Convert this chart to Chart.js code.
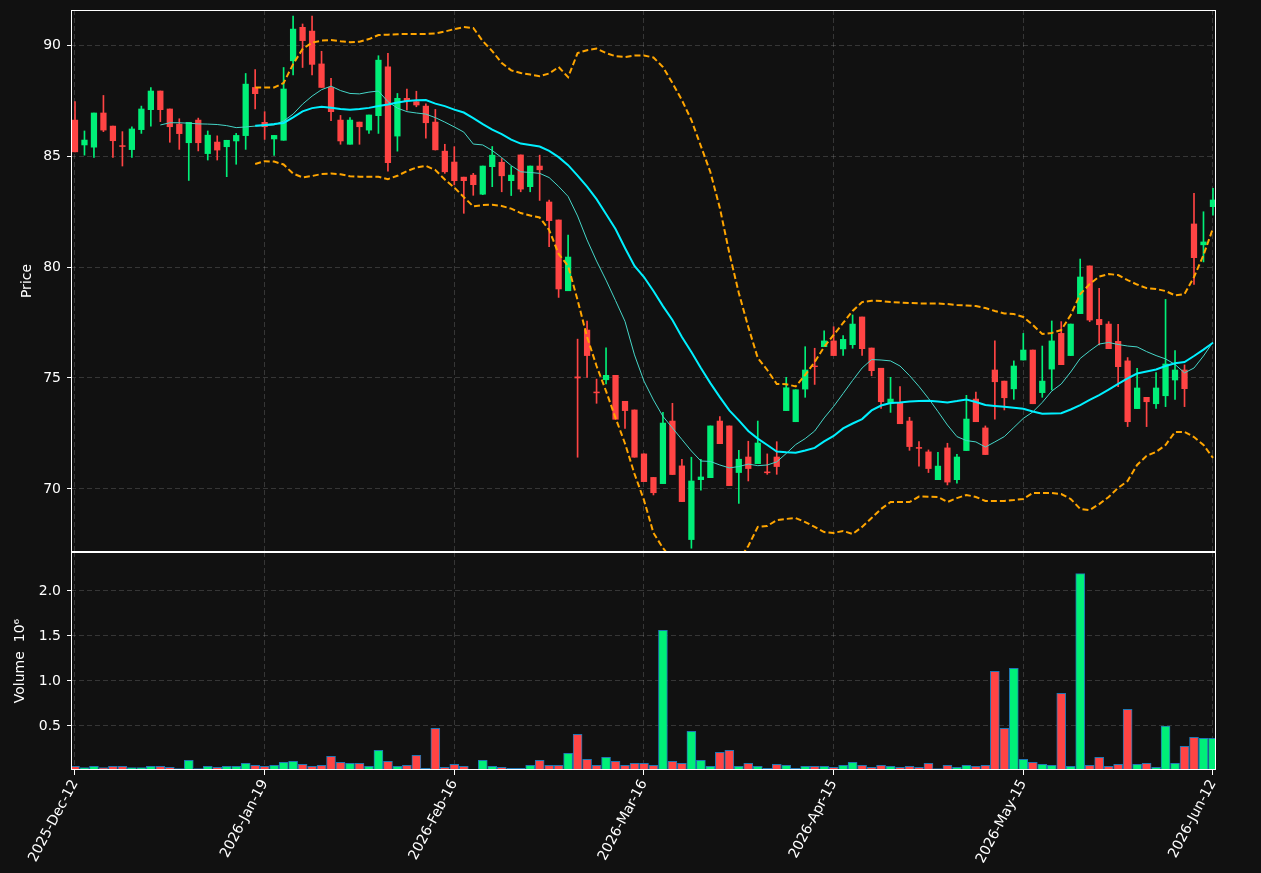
<!DOCTYPE html>
<html>
<head>
<meta charset="utf-8">
<script src="https://cdn.jsdelivr.net/npm/chart.js@4.4.1/dist/chart.umd.min.js"></script>
<style>
html,body{margin:0;padding:0;background:#111111;}
#wrap{position:relative;width:1261px;height:873px;background:#111111;overflow:hidden;}
#c1{position:absolute;left:0;top:0;}
#c2{position:absolute;left:0;top:552px;}
</style>
</head>
<body>
<div id="wrap">
<canvas id="c1" width="1261" height="553"></canvas>
<canvas id="c2" width="1261" height="321"></canvas>
</div>
<script>
// ---------------- data ----------------
const tickLabels = ['2025-Dec-12','2026-Jan-19','2026-Feb-16','2026-Mar-16','2026-Apr-15','2026-May-15','2026-Jun-12'];
const tickPositions = [0,20,40,60,80,100,120];
const priceTicks = [70,75,80,85,90];
const volumeTicks = [0.5,1.0,1.5,2.0];

const opens = [
86.62,85.50,85.40,86.94,86.35,85.47,85.29,86.19,87.09,87.93,
87.12,86.44,85.60,86.62,85.11,85.63,85.42,85.68,85.92,88.09,
86.52,85.77,85.71,89.29,90.80,90.63,89.15,88.09,86.62,85.53,
86.53,86.17,86.82,89.02,85.90,87.60,87.45,87.25,86.53,85.22,
84.73,84.05,84.14,83.28,84.52,84.72,83.89,85.05,83.62,84.55,
82.93,82.12,78.93,75.05,77.16,74.37,74.92,75.12,73.95,73.56,
71.58,70.52,70.24,73.06,71.04,67.72,70.42,70.51,73.06,72.84,
70.74,71.44,71.14,70.77,71.44,73.53,73.03,74.50,75.54,76.41,
76.67,76.31,76.50,77.75,76.35,75.44,73.86,73.86,73.06,71.87,
71.67,70.42,71.85,70.42,71.73,74.05,72.75,75.36,74.86,74.51,
75.81,76.26,74.34,75.40,77.01,76.01,77.90,80.05,77.64,77.43,
76.65,75.77,73.62,74.13,73.84,74.20,74.91,75.36,81.94,81.00,
82.72];
const highs = [
87.45,86.13,86.94,87.73,86.35,86.10,86.32,87.25,88.09,87.93,
87.12,86.68,86.52,86.71,86.13,85.91,85.71,86.02,88.72,88.90,
87.00,85.93,88.99,91.31,90.95,91.31,89.72,88.50,86.83,86.73,
86.53,86.85,89.52,89.63,87.82,88.02,87.92,87.35,87.10,85.53,
85.42,84.05,84.22,84.55,85.43,84.89,84.53,85.05,84.55,85.04,
83.02,82.12,81.44,76.75,77.56,74.95,76.36,75.12,73.95,73.56,
71.58,70.52,73.45,73.86,71.34,71.43,71.34,72.84,73.26,72.84,
71.74,72.15,73.06,71.58,72.13,75.03,74.47,76.41,76.34,77.13,
77.31,76.91,77.84,77.75,76.35,75.44,75.03,74.61,73.23,72.13,
71.76,71.65,72.06,71.56,74.22,74.37,72.84,76.67,74.86,75.77,
77.01,76.26,76.44,77.57,77.54,77.43,80.36,80.05,79.04,77.54,
77.42,75.92,75.44,74.13,75.24,78.54,76.23,75.59,83.32,82.49,
83.54];
const lows = [
85.19,85.04,84.94,86.10,84.94,84.55,84.94,86.02,86.35,86.55,
85.62,85.30,83.90,85.23,84.82,84.82,84.07,84.63,85.30,87.12,
85.75,85.03,85.71,88.65,88.99,88.65,88.09,86.59,85.53,85.53,
85.53,86.02,86.02,84.32,85.22,87.07,87.22,85.80,85.27,84.22,
83.70,82.42,83.23,83.26,83.62,83.39,83.22,83.39,83.39,83.00,
80.92,78.63,78.93,71.43,75.03,73.86,74.73,73.14,72.73,71.43,
70.33,69.73,70.24,70.65,69.43,67.33,69.95,70.51,72.04,70.15,
69.35,70.36,71.14,70.66,70.66,73.53,73.03,74.13,74.71,76.41,
76.01,76.02,76.34,76.02,75.10,73.63,73.45,72.94,71.74,71.03,
70.74,70.42,70.18,70.26,71.73,73.03,71.55,73.14,73.56,74.04,
75.81,73.84,74.13,74.46,75.60,76.01,77.90,77.54,76.49,76.32,
74.61,72.81,73.62,72.81,73.63,73.71,74.04,73.71,79.22,80.23,
82.34];
const closes = [
85.19,85.72,86.94,86.17,85.69,85.43,86.22,87.12,87.93,87.09,
86.32,86.01,86.52,85.60,85.94,85.27,85.71,85.93,88.24,87.81,
86.32,85.93,88.02,90.72,90.20,89.13,88.09,87.00,85.68,86.62,
86.32,86.85,89.32,84.70,87.60,87.49,87.30,86.50,85.28,84.29,
83.89,83.89,83.71,84.55,85.04,84.11,84.14,83.51,84.55,84.38,
82.09,79.01,80.45,75.00,76.01,74.33,75.12,73.14,73.53,71.43,
70.33,69.83,72.97,70.65,69.43,70.36,70.54,72.84,72.04,70.15,
71.34,70.92,72.07,70.73,71.01,74.56,74.47,75.36,75.51,76.67,
76.01,76.74,77.43,76.32,75.33,73.93,74.05,72.94,71.91,71.83,
70.92,71.03,70.31,71.44,73.15,73.03,71.55,74.83,74.11,75.54,
76.26,73.84,74.86,76.67,75.60,77.43,79.55,77.61,77.40,76.32,
75.51,73.03,74.55,73.93,74.55,75.63,75.36,74.52,80.42,81.13,
83.02];
// volume in millions
const volumes = [
0.052,0.037,0.052,0.037,0.052,0.052,0.037,0.037,0.052,0.052,
0.041,0.026,0.118,0.026,0.052,0.041,0.052,0.052,0.085,0.063,
0.052,0.063,0.096,0.107,0.074,0.052,0.063,0.163,0.096,0.085,
0.085,0.052,0.230,0.107,0.052,0.063,0.174,0.030,0.474,0.041,
0.074,0.052,0.019,0.118,0.052,0.041,0.030,0.030,0.063,0.118,
0.063,0.063,0.196,0.407,0.130,0.063,0.152,0.107,0.063,0.085,
0.085,0.063,1.563,0.107,0.085,0.441,0.118,0.052,0.207,0.230,
0.052,0.085,0.052,0.030,0.074,0.063,0.030,0.052,0.052,0.052,
0.041,0.063,0.096,0.063,0.041,0.063,0.052,0.041,0.052,0.041,
0.085,0.026,0.063,0.041,0.063,0.052,0.063,1.107,0.474,1.141,
0.130,0.096,0.074,0.063,0.863,0.052,2.192,0.063,0.152,0.052,
0.074,0.685,0.074,0.085,0.041,0.500,0.085,0.274,0.374,0.363,
0.363];
const ma10 = [null,null,null,null,null,null,null,null,null,
86.40,86.50,86.50,86.48,86.45,86.44,86.42,86.37,86.28,86.31,86.35,
86.37,86.40,86.58,86.89,87.34,87.70,87.99,88.15,87.95,87.82,
87.80,87.88,87.93,87.45,87.16,87.00,86.94,86.89,86.73,86.53,
86.31,86.08,85.54,85.50,85.25,84.93,84.57,84.29,84.26,84.22,
84.03,83.63,83.18,82.30,81.22,80.27,79.41,78.49,77.55,76.04,
74.86,74.01,73.27,72.75,72.23,71.71,71.26,71.24,71.08,70.95,
71.01,71.12,71.05,71.08,71.22,71.60,72.00,72.27,72.61,73.20,
73.72,74.30,74.89,75.45,75.83,75.81,75.77,75.54,75.11,74.62,
74.08,73.49,72.88,72.36,72.18,72.12,71.89,72.12,72.36,72.77,
73.18,73.47,73.90,74.41,74.73,75.27,75.88,76.22,76.53,76.60,
76.51,76.44,76.40,76.19,76.01,75.86,75.61,75.23,75.45,75.99,
76.62];
const ma20 = [null,null,null,null,null,null,null,null,null,null,
null,null,null,null,null,null,null,null,null,
86.37,86.40,86.44,86.49,86.74,87.01,87.16,87.22,87.18,87.12,87.09,
87.12,87.17,87.25,87.32,87.41,87.48,87.51,87.52,87.36,87.25,
87.09,86.96,86.71,86.44,86.19,85.99,85.74,85.56,85.50,85.43,
85.23,84.95,84.59,84.12,83.62,83.06,82.39,81.71,80.86,80.05,
79.55,78.92,78.24,77.61,76.85,76.17,75.45,74.77,74.14,73.54,
73.09,72.61,72.27,71.98,71.69,71.65,71.63,71.73,71.85,72.14,
72.39,72.73,72.95,73.15,73.54,73.76,73.87,73.90,73.94,73.96,
73.97,73.94,73.90,73.96,74.03,73.92,73.78,73.74,73.70,73.66,
73.61,73.49,73.39,73.40,73.41,73.58,73.78,74.01,74.23,74.48,
74.73,74.98,75.20,75.29,75.38,75.54,75.66,75.72,75.99,76.28,
76.59];
const bbUpper = [null,null,null,null,null,null,null,null,null,null,
null,null,null,null,null,null,null,null,null,
88.09,88.09,88.09,88.29,89.14,89.82,90.11,90.20,90.23,90.17,90.13,
90.15,90.27,90.45,90.47,90.49,90.50,90.50,90.50,90.52,90.61,
90.72,90.81,90.77,90.18,89.73,89.19,88.86,88.74,88.67,88.60,
88.72,89.01,88.55,89.64,89.77,89.84,89.64,89.50,89.46,89.53,
89.53,89.44,89.01,88.29,87.52,86.62,85.45,84.28,82.66,80.63,
78.83,77.30,75.90,75.36,74.73,74.72,74.62,75.14,75.72,76.40,
76.94,77.48,78.02,78.42,78.48,78.47,78.42,78.40,78.38,78.36,
78.36,78.36,78.33,78.29,78.27,78.24,78.15,78.02,77.91,77.88,
77.75,77.39,76.98,77.03,77.16,77.84,78.78,79.23,79.57,79.68,
79.64,79.41,79.21,79.05,79.01,78.92,78.72,78.78,79.55,80.54,
81.74];
const bbLower = [null,null,null,null,null,null,null,null,null,null,
null,null,null,null,null,null,null,null,null,
84.64,84.77,84.75,84.62,84.21,84.04,84.10,84.19,84.21,84.18,84.09,
84.07,84.07,84.07,83.96,84.11,84.32,84.48,84.56,84.37,83.94,
83.58,83.15,82.73,82.79,82.81,82.75,82.63,82.43,82.32,82.23,
81.67,80.59,80.05,78.51,76.85,75.54,74.41,73.20,72.05,70.68,
69.50,68.02,67.34,66.80,66.26,65.90,65.72,65.68,65.81,66.13,
66.80,67.43,68.29,68.33,68.60,68.65,68.69,68.51,68.29,68.06,
68.02,68.11,67.97,68.29,68.69,69.10,69.41,69.41,69.41,69.66,
69.65,69.64,69.41,69.59,69.73,69.64,69.46,69.46,69.46,69.50,
69.55,69.82,69.82,69.82,69.77,69.55,69.10,69.05,69.32,69.64,
70.05,70.36,71.08,71.49,71.67,71.98,72.57,72.57,72.34,71.98,
71.40];

// ---------------- styling ----------------
const UP = '#00ef78', DOWN = '#ff4444';
const BG = '#111111';
const GRID = 'rgba(255,255,255,0.20)';
const FONT = {family:'DejaVu Sans', size:14};
const X_MIN = -0.42, X_MAX = 120.32;
Chart.defaults.font.family = 'DejaVu Sans';
Chart.defaults.color = '#ffffff';

const candleColors = opens.map((o,i)=> closes[i] >= o ? UP : DOWN);
const pts = arr => arr.map((v,i)=>({x:i,y:v})).filter(p=>p.y!==null);

const framePlugin = {
  id:'frame',
  beforeDraw(chart){
    const {ctx} = chart;
    ctx.save(); ctx.fillStyle = BG; ctx.fillRect(0,0,chart.width,chart.height); ctx.restore();
  },
  afterDraw(chart){
    const {ctx, chartArea:a} = chart;
    ctx.save();
    ctx.strokeStyle = '#ffffff'; ctx.lineWidth = 1;
    ctx.strokeRect(Math.round(a.left)+0.5, Math.round(a.top)+0.5, Math.round(a.right-a.left)-1, Math.round(a.bottom-a.top)-1);
    ctx.restore();
  }
};

function fixedWidth(w){ return function(scale){ scale.width = w; scale.paddingTop=0; scale.paddingBottom=0; scale.paddingLeft=0; scale.paddingRight=0; }; }
function fixedHeight(h){ return function(scale){ scale.height = h; scale.paddingTop=0; scale.paddingBottom=0; scale.paddingLeft=0; scale.paddingRight=0; }; }

// ---------------- price chart ----------------
new Chart(document.getElementById('c1'), {
  type:'bar',
  data:{
    datasets:[
      {type:'line', label:'MA20', data:pts(ma20), borderColor:'#00f0ff', borderWidth:2, pointRadius:0, tension:0, order:0},
      {type:'line', label:'MA10', data:pts(ma10), borderColor:'#45d6c8', borderWidth:1, pointRadius:0, tension:0, order:0},
      {type:'line', label:'BB upper', data:pts(bbUpper), borderColor:'#ffa500', borderWidth:2, borderDash:[6,3], pointRadius:0, tension:0, order:1},
      {type:'line', label:'BB lower', data:pts(bbLower), borderColor:'#ffa500', borderWidth:2, borderDash:[6,3], pointRadius:0, tension:0, order:1},
      {label:'body', data:opens.map((o,i)=>({x:i,y:[o,closes[i]]})), backgroundColor:candleColors, borderWidth:0, barThickness:5.6, grouped:false, order:2},
      {label:'wick', data:lows.map((l,i)=>({x:i,y:[l,highs[i]]})), backgroundColor:candleColors, borderWidth:0, barThickness:1, grouped:false, order:3}
    ]
  },
  options:{
    responsive:false, animation:false, devicePixelRatio:1,
    layout:{padding:{left:0,right:45,top:10,bottom:1}},
    plugins:{legend:{display:false}, tooltip:{enabled:false}},
    scales:{
      x:{type:'linear', min:X_MIN, max:X_MAX, offset:false,
         grid:{color:GRID, lineWidth:0.8, drawTicks:false, offset:false},
         border:{display:false, dash:[5,3]},
         ticks:{display:false},
         afterBuildTicks(scale){ scale.ticks = tickPositions.map(v=>({value:v})); },
         afterFit: fixedHeight(0)},
      y:{type:'linear', min:67.16, max:91.58,
         grid:{color:GRID, lineWidth:0.8, tickColor:'#ffffff', tickLength:4, tickWidth:1, tickBorderDash:[]},
         border:{display:false, dash:[5,3]},
         ticks:{color:'#ffffff', font:FONT, padding:6, callback:(v)=>String(v)},
         title:{display:true, text:'Price', color:'#ffffff', font:FONT, padding:{top:18.6,bottom:0}},
         afterBuildTicks(scale){ scale.ticks = priceTicks.map(v=>({value:v})); },
         afterFit: fixedWidth(71)}
    }
  },
  plugins:[framePlugin]
});

// ---------------- volume chart ----------------
new Chart(document.getElementById('c2'), {
  type:'bar',
  data:{
    datasets:[
      {label:'Volume', data:volumes.map((v,i)=>({x:i,y:v})), backgroundColor:candleColors, borderColor:'#1f77b4', borderWidth:1, barThickness:9, grouped:false}
    ]
  },
  options:{
    responsive:false, animation:false, devicePixelRatio:1,
    layout:{padding:{left:0,right:45,top:0,bottom:0}},
    plugins:{legend:{display:false}, tooltip:{enabled:false}},
    scales:{
      x:{type:'linear', min:X_MIN, max:X_MAX, offset:false,
         grid:{color:GRID, lineWidth:0.8, tickColor:'#ffffff', tickLength:5, tickWidth:1, tickBorderDash:[], offset:false},
         border:{display:false, dash:[5,3]},
         ticks:{color:'#ffffff', font:FONT, autoSkip:false, minRotation:62, maxRotation:62, padding:2,
                callback:(v,idx)=> tickLabels[idx] ?? ''},
         afterBuildTicks(scale){ scale.ticks = tickPositions.map(v=>({value:v})); },
         afterFit: fixedHeight(103)},
      y:{type:'linear', min:0.011, max:2.433,
         grid:{color:GRID, lineWidth:0.8, tickColor:'#ffffff', tickLength:4, tickWidth:1, tickBorderDash:[]},
         border:{display:false, dash:[5,3]},
         ticks:{color:'#ffffff', font:FONT, padding:6, callback:(v)=>Number(v).toFixed(1)},
         title:{display:true, text:'Volume  10⁶', color:'#ffffff', font:FONT, padding:{top:11.6,bottom:0}},
         afterBuildTicks(scale){ scale.ticks = volumeTicks.map(v=>({value:v})); },
         afterFit: fixedWidth(71)}
    }
  },
  plugins:[framePlugin]
});
</script>
</body>
</html>
